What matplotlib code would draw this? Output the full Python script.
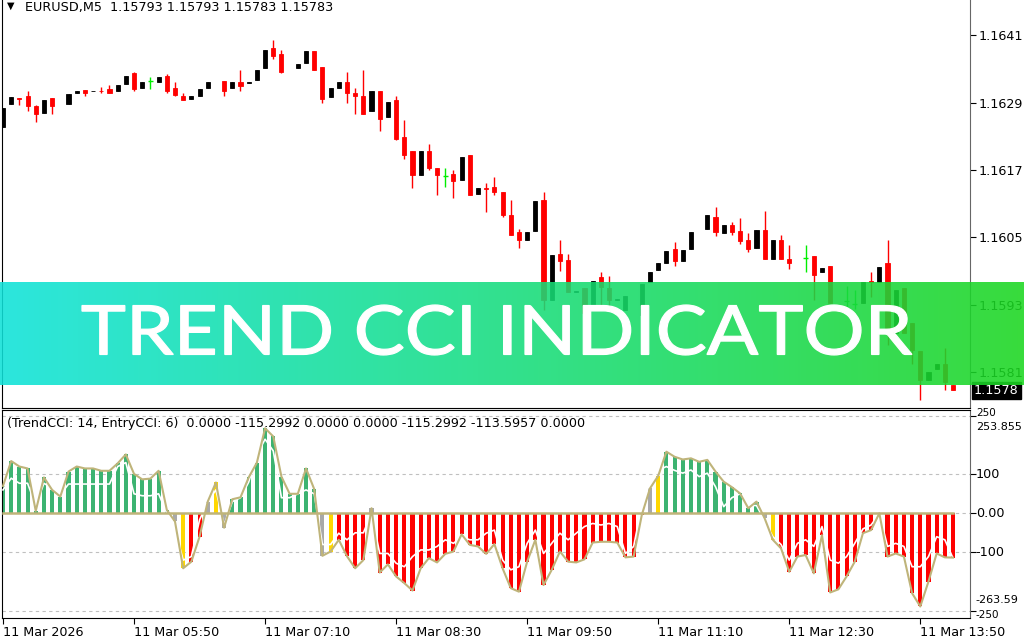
import numpy as np
import matplotlib.pyplot as plt
from matplotlib.textpath import TextPath
from matplotlib.patches import PathPatch
from matplotlib.font_manager import FontProperties
from matplotlib.transforms import Affine2D, blended_transform_factory

nan = np.nan

# EURUSD M5 candles, 04:30 .. 14:10 (nan = bar not visible on the chart)
opens = [1.16247, 1.16287, 1.16299, 1.16302, 1.16284, 1.16271, 1.16298, nan, 1.16287, 1.16307,
         1.16313, 1.16310, 1.16311, 1.16314, 1.16311, 1.16323, 1.16343, 1.16317, 1.16329, 1.16327,
         1.16338, 1.16317, 1.16302, 1.16297, 1.16302, 1.16317, nan, 1.16329, 1.16317, 1.16327,
         1.16325, 1.16330, 1.16351, 1.16388, 1.16377, nan, 1.16351, 1.16361, 1.16382, 1.16353,
         1.16300, 1.16317, 1.16326, 1.16308, 1.16302, 1.16276, 1.16311, 1.16265, 1.16294, 1.16229,
         1.16203, 1.16161, 1.16204, 1.16174, 1.16160, 1.16162, 1.16152, 1.16197, 1.16128, 1.16138,
         1.16140, 1.16130, 1.16090, 1.16059, 1.16045, 1.16062, 1.16117, 1.15938, 1.16021, 1.16010,
         1.15953, 1.15960, 1.15926, 1.15979, 1.15960, 1.15938, 1.15920, nan, 1.15912, 1.15970,
         1.15992, 1.16005, 1.16029, 1.16008, 1.16029, nan, 1.16065, 1.16087, 1.16057, 1.16072,
         1.16062, 1.16045, 1.16031, 1.16063, 1.16011, 1.16045, 1.16011, nan, 1.16014, 1.16017,
         1.15989, 1.15999, nan, 1.15936, 1.15932, 1.15933, 1.15973, 1.15971, 1.16004, 1.15879,
         1.15960, 1.15897, 1.15847, 1.15796, 1.15816, 1.15824, 1.15787]
highs = [1.16281, 1.16300, 1.16299, 1.16311, 1.16285, 1.16295, 1.16298, nan, 1.16305, 1.16311,
         1.16313, 1.16311, 1.16318, 1.16321, 1.16321, 1.16338, 1.16345, 1.16327, 1.16335, 1.16335,
         1.16341, 1.16327, 1.16308, 1.16302, 1.16314, 1.16327, nan, 1.16329, 1.16326, 1.16348,
         1.16326, 1.16349, 1.16384, 1.16402, 1.16384, nan, 1.16359, 1.16382, 1.16382, 1.16353,
         1.16316, 1.16326, 1.16344, 1.16316, 1.16348, 1.16311, 1.16311, 1.16291, 1.16302, 1.16259,
         1.16203, 1.16204, 1.16216, 1.16174, 1.16173, 1.16170, 1.16193, 1.16197, 1.16137, 1.16146,
         1.16157, 1.16130, 1.16117, 1.16064, 1.16060, 1.16115, 1.16130, 1.16018, 1.16045, 1.16021,
         1.15955, 1.15960, 1.15973, 1.15988, 1.15981, 1.15940, 1.15945, nan, 1.15966, 1.15988,
         1.16004, 1.16026, 1.16042, 1.16027, 1.16060, nan, 1.16089, 1.16104, 1.16072, 1.16078,
         1.16084, 1.16057, 1.16063, 1.16097, 1.16045, 1.16054, 1.16036, nan, 1.16036, 1.16017,
         1.15996, 1.15999, nan, 1.15964, 1.15956, 1.15971, 1.15989, 1.15997, 1.16045, 1.15956,
         1.15960, 1.15897, 1.15847, 1.15810, 1.15824, 1.15852, 1.15787]
lows = [1.16246, 1.16287, 1.16286, 1.16276, 1.16256, 1.16271, 1.16269, nan, 1.16287, 1.16307,
        1.16301, 1.16310, 1.16307, 1.16307, 1.16311, 1.16323, 1.16311, 1.16317, 1.16314, 1.16327,
        1.16307, 1.16301, 1.16294, 1.16297, 1.16302, 1.16317, nan, 1.16302, 1.16317, 1.16310,
        1.16325, 1.16330, 1.16351, 1.16367, 1.16342, nan, 1.16351, 1.16361, 1.16349, 1.16289,
        1.16300, 1.16317, 1.16289, 1.16269, 1.16270, 1.16276, 1.16239, 1.16265, 1.16223, 1.16189,
        1.16138, 1.16161, 1.16170, 1.16125, 1.16139, 1.16120, 1.16152, 1.16125, 1.16128, 1.16096,
        1.16125, 1.16087, 1.16054, 1.16031, 1.16045, 1.16062, 1.15920, 1.15938, 1.15990, 1.15953,
        1.15953, 1.15903, 1.15926, 1.15926, 1.15926, 1.15938, 1.15920, nan, 1.15912, 1.15970,
        1.15992, 1.16005, 1.15999, 1.16008, 1.16029, nan, 1.16065, 1.16053, 1.16057, 1.16054,
        1.16038, 1.16024, 1.16031, 1.16011, 1.16011, 1.16011, 1.15993, nan, 1.15988, 1.15938,
        1.15989, 1.15933, nan, 1.15926, 1.15923, 1.15933, 1.15943, 1.15971, 1.15858, 1.15879,
        1.15879, 1.15825, 1.15760, 1.15796, 1.15816, 1.15778, 1.15777]
closes = [1.16280, 1.16300, 1.16297, 1.16284, 1.16270, 1.16295, 1.16284, nan, 1.16305, 1.16311,
          1.16307, 1.16311, 1.16310, 1.16308, 1.16321, 1.16338, 1.16314, 1.16327, 1.16329, 1.16335,
          1.16310, 1.16304, 1.16294, 1.16302, 1.16314, 1.16327, nan, 1.16311, 1.16326, 1.16320,
          1.16326, 1.16349, 1.16384, 1.16374, 1.16345, nan, 1.16359, 1.16382, 1.16349, 1.16297,
          1.16316, 1.16326, 1.16308, 1.16301, 1.16270, 1.16311, 1.16261, 1.16291, 1.16225, 1.16197,
          1.16161, 1.16204, 1.16174, 1.16161, 1.16160, 1.16150, 1.16193, 1.16125, 1.16137, 1.16136,
          1.16130, 1.16090, 1.16055, 1.16045, 1.16060, 1.16115, 1.15938, 1.16018, 1.16008, 1.15953,
          1.15955, 1.15915, 1.15973, 1.15962, 1.15938, 1.15940, 1.15945, nan, 1.15966, 1.15988,
          1.16004, 1.16026, 1.16007, 1.16027, 1.16060, nan, 1.16089, 1.16059, 1.16072, 1.16059,
          1.16044, 1.16030, 1.16063, 1.16011, 1.16045, 1.16011, 1.16005, nan, 1.16014, 1.15983,
          1.15996, 1.15933, nan, 1.15936, 1.15932, 1.15971, 1.15970, 1.15997, 1.15879, 1.15956,
          1.15879, 1.15849, 1.15796, 1.15810, 1.15824, 1.15792, 1.15777]

# indicator window
trend_cci = [70, 134, 120, 115, 6, 92, 60, 43, 107, 120, 115, 115, 109, 109, 128, 151, 101, 87, 89, 109,
             9, -21, -141, -124, -60, 30, 79, -37, 36, 41, 92, 130, 218, 197, 94, 50, 50, 115, 62, -109,
             -98, -68, -110, -141, -120, 13, -152, -131, -162, -179, -198, -141, -115, -126, -104, -98, -54, -81, -85, -104,
             -79, -141, -192, -201, -124, -68, -184, -145, -98, -124, -126, -118, -75, -73, -73, -75, -113, -111, -4, 64,
             96, 158, 145, 138, 141, 132, 137, 107, 81, 67, 51, 13, 30, -13, -68, -90, -150, -111, -107, -154,
             -56, -203, -195, -162, -124, -51, -43, 0, -111, -103, -111, -205, -239, -175, -103, -113, -113.6]
entry_cci = [60, 90, 77, 77, 20, 77, 64, 47, 75, 75, 75, 75, 75, 75, 120, 130, 50, 45, 45, 50,
             0, -40, -120, -111, -17, 30, 60, -30, 30, 40, 80, 150, 190, 160, 40, 40, 50, 60, 50, -80,
             -80, -51, -68, -50, -50, 0, -103, -103, -128, -137, -111, -94, -94, -85, -68, -77, -60, -68, -68, -51,
             -43, -120, -145, -137, -77, -43, -103, -77, -51, -68, -51, -34, -26, -30, -26, -34, -103, -85, 20, 80,
             110, 120, 110, 103, 111, 94, 103, 68, 17, 40, 50, 20, 20, -20, -60, -80, -120, -77, -68, -85,
             -34, -120, -128, -111, -77, -40, -30, 0, -85, -77, -85, -137, -137, -111, -60, -68, -115.3]
# g = up trend, r = down trend, y = trend turning, s = no trend
bar_state = ("ggggggggggggggggggggg" + "syrr" + "sys" + "ggggggggggg" + "sy" + "rrrr" + "s"
             + "r" * 33 + "sy" + "g" * 12 + "sy" + "r" * 22)

price_ticks = [1.1641, 1.1629, 1.1617, 1.1605, 1.1593, 1.1581]
time_ticks = [0, 16, 32, 48, 64, 80, 96, 112]
time_labels = ["11 Mar 2026", "11 Mar 05:50", "11 Mar 07:10", "11 Mar 08:30",
               "11 Mar 09:50", "11 Mar 11:10", "11 Mar 12:30", "11 Mar 13:50"]
cci_levels = [250, 100, 0, -100, -250]
header = "EURUSD,M5  1.15793 1.15793 1.15783 1.15783"
cci_header = "(TrendCCI: 14, EntryCCI: 6)  0.0000 -115.2992 0.0000 0.0000 -115.2992 -113.5957 0.0000"
banner = "TREND CCI INDICATOR"

o, h, l, c = (np.array(a, dtype=float) for a in (opens, highs, lows, closes))
idx = np.arange(len(o))
fs = 9.2

fig = plt.figure(figsize=(10.24, 6.4), dpi=100)
fig.patch.set_facecolor("white")

# ---- price window
ax = fig.add_axes([2 / 1024, 1 - 408 / 640, 968 / 1024, 408 / 640])
ok = ~np.isnan(o)
up = ok & (c > o)
dn = ok & (c < o)
dj = ok & (c == o)
for m, col in ((up, "black"), (dn, "#ff0000"), (dj, "#00ee00")):
    ax.vlines(idx[m], l[m], h[m], color=col, lw=1.0, zorder=2)
    if col != "#00ee00":
        ax.bar(idx[m], np.abs(c[m] - o[m]), bottom=np.minimum(o[m], c[m]), width=0.5,
               color=col, edgecolor=col, lw=0.6, zorder=3)
ax.hlines(c[dj], idx[dj] - 0.3, idx[dj] + 0.3, color="#00ee00", lw=1.0, zorder=3)

ax.set_xlim(-0.12, 118.07)
ax.set_ylim(1.16473 - 408 * 1.7825e-5, 1.16473)
ax.yaxis.tick_right()
ax.set_yticks(price_ticks)
ax.set_yticklabels([f"{p:.4f}" for p in price_ticks], fontsize=fs)
ax.tick_params(axis="y", length=4, pad=2, colors="#000000")
ax.set_xticks([])
ax.spines["top"].set_visible(False)
ax.spines["right"].set_color("#666666")
for s in ("left", "bottom"):
    ax.spines[s].set_color("black")
tr = blended_transform_factory(ax.transAxes, ax.transData)
last = c[~np.isnan(c)][-1]
ax.text(1.004, last, "1.1578", transform=tr, fontsize=fs, color="white", va="center", ha="left",
        bbox=dict(boxstyle="square,pad=0.15", fc="black", ec="black"), zorder=5)

# ---- indicator window
ax2 = fig.add_axes([2 / 1024, 1 - 618 / 640, 968 / 1024, 208 / 640])
ax2.set_xlim(-0.12, 118.07)
ax2.set_ylim(-268.5, 264.9)
for lv in cci_levels:
    ax2.axhline(lv, color="#c0c0c0", lw=0.8, ls=(0, (3, 3)), zorder=1)
state_col = {"g": "#3cb371", "r": "#ff0000", "y": "#ffd700", "s": "#a9a9a9"}
ax2.bar(idx, trend_cci, width=0.5, color=[state_col[k] for k in bar_state], zorder=2)
ax2.plot(idx, entry_cci, color="white", lw=1.2, zorder=3)
ax2.plot(idx, trend_cci, color="#bfb47a", lw=1.5, zorder=4)
ax2.plot(idx, np.zeros(len(idx)), color="#bfb47a", lw=1.8, zorder=4)

ax2.yaxis.tick_right()
ax2.set_yticks(cci_levels)
ax2.set_yticklabels([])
ax2.tick_params(axis="y", length=4, colors="#000000")
tr2 = blended_transform_factory(ax2.transAxes, ax2.transData)
for val, txt, sz in ((256, "250", 7.5), (222, "253.855", 8), (100, "100", fs), (0, "0.00", fs),
                     (-100, "-100", fs), (-222, "-263.59", 8), (-260, "-250", 7.5)):
    ax2.text(1.006, val, txt, transform=tr2, fontsize=sz, va="center", ha="left", clip_on=False)
ax2.set_xticks(time_ticks)
ax2.set_xticklabels(time_labels, ha="left", fontsize=fs)
ax2.tick_params(axis="x", length=4, pad=2)
ax2.spines["right"].set_color("#666666")

fig.text(7 / 1024, 1 - 6 / 640, "\u25bc", fontsize=7, va="center", ha="left")
fig.text(25 / 1024, 1 - 7 / 640, header, fontsize=fs, va="center", ha="left")
fig.text(7 / 1024, 1 - 424 / 640, cci_header, fontsize=fs, va="center", ha="left")

# ---- banner overlay
ov = fig.add_axes([0, 0, 1, 1], zorder=10)
ov.axis("off")
left_c = np.array([0.06, 0.89, 0.85])
right_c = np.array([0.11, 0.84, 0.13])
t = np.linspace(0, 1, 256)[:, None]
grad = np.ones((1, 256, 4))
grad[0, :, :3] = left_c * (1 - t) + right_c * t
grad[0, :, 3] = 0.88
ov.imshow(grad, extent=(0, 1024, 385, 282), aspect="auto", interpolation="bilinear")
fp = FontProperties(family="Lato")
tp = TextPath((0, 0), banner, size=100, prop=fp)
ext = tp.get_extents()
sx = (912 - 82) / ext.width
sy = (355 - 305) / ext.height
tf = Affine2D().translate(-ext.x0, -ext.y0).scale(sx, -sy).translate(82, 355)
ov.add_patch(PathPatch(tf.transform_path(tp), fc="white", ec="white", lw=0.9))
ov.set_xlim(0, 1024)
ov.set_ylim(640, 0)

fig.savefig("out.png", dpi=100)
